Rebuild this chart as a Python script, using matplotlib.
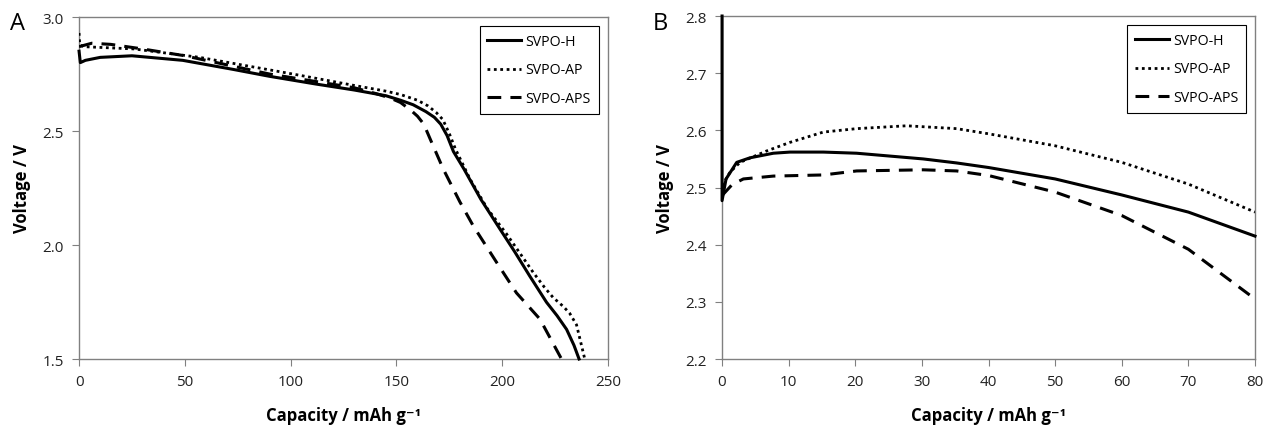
import matplotlib.pyplot as plt

plt.rcParams['font.family'] = ['Open Sans', 'DejaVu Sans']

## Panel A data (capacity / mAh g-1, voltage / V)
a_h_cap = [0, 0.6, 3, 10, 25, 49, 73, 90, 112, 130, 145, 152, 158, 164, 168, 171, 174, 177, 182, 190, 199, 206, 213, 221, 226, 230.5, 234, 236.4]
a_h_v = [2.85, 2.80, 2.81, 2.823, 2.83, 2.81, 2.77, 2.74, 2.706, 2.68, 2.655, 2.635, 2.615, 2.585, 2.56, 2.53, 2.48, 2.41, 2.333, 2.2, 2.07, 1.97, 1.865, 1.749, 1.69, 1.63, 1.56, 1.5]

a_ap_cap = [0, 0.3, 2, 26, 57, 104, 130, 145, 152, 160, 165, 169, 172, 175, 178, 184.8, 193, 202, 208, 214.7, 220, 224.1, 229, 232, 235.2, 239.1]
a_ap_v = [2.93, 2.88, 2.87, 2.86, 2.823, 2.745, 2.70, 2.675, 2.66, 2.635, 2.61, 2.58, 2.55, 2.49, 2.42, 2.29, 2.16, 2.05, 1.97, 1.88, 1.815, 1.77, 1.73, 1.70, 1.65, 1.5]

a_aps_cap = [0, 2, 6, 15, 30, 50, 70, 90, 110, 130, 140, 147, 152, 157, 160, 163, 166, 172.2, 180, 186.3, 197.4, 206.8, 217.9, 228.1]
a_aps_v = [2.87, 2.875, 2.885, 2.88, 2.86, 2.83, 2.79, 2.75, 2.72, 2.69, 2.665, 2.645, 2.625, 2.59, 2.565, 2.53, 2.465, 2.333, 2.19, 2.085, 1.924, 1.79, 1.675, 1.5]

## Panel B data
b_h_cap = [0, 0, 0.6, 2.2, 4.2, 7.7, 10.2, 15.2, 20.2, 30.2, 35.2, 40, 50, 60, 70, 80]
b_h_v = [2.80, 2.477, 2.515, 2.544, 2.552, 2.56, 2.562, 2.562, 2.56, 2.55, 2.543, 2.535, 2.515, 2.487, 2.457, 2.415]

b_ap_cap = [0, 1.2, 2.7, 6.7, 10.2, 15.2, 20.2, 27.7, 35.2, 40, 50, 60, 70, 80]
b_ap_v = [2.503, 2.527, 2.544, 2.564, 2.579, 2.597, 2.603, 2.608, 2.603, 2.594, 2.573, 2.544, 2.506, 2.457]

b_aps_cap = [0, 1.5, 3.2, 7.7, 15.2, 20.2, 30.2, 35.2, 40, 50, 60, 70, 80]
b_aps_v = [2.486, 2.505, 2.515, 2.52, 2.522, 2.529, 2.531, 2.529, 2.521, 2.492, 2.451, 2.392, 2.305]

labels = ['SVPO-H', 'SVPO-AP', 'SVPO-APS']

fig = plt.figure(figsize=(12.65, 4.31), dpi=100)
axA = fig.add_axes([0.0625, 0.1647, 0.418, 0.7935])
axB = fig.add_axes([0.5708, 0.1647, 0.4213, 0.7958])

def draw(ax, h, ap, aps):
    ax.plot(h[0], h[1], color='black', lw=2.2, label=labels[0], clip_on=False, zorder=5)
    ax.plot(ap[0], ap[1], color='black', lw=2.0, ls=(0, (1, 1.3)), label=labels[1], zorder=4)
    ax.plot(aps[0], aps[1], color='black', lw=2.2, ls=(0, (4.5, 3)), label=labels[2], zorder=4)
    for s in ax.spines.values():
        s.set_color('#808080')
        s.set_linewidth(1.0)
    ax.tick_params(direction='out', length=5, color='#808080', labelsize=11, pad=6, labelcolor='#222222')
    ax.set_ylabel('Voltage / V', fontsize=12, fontweight='bold', labelpad=8)
    ax.set_xlabel('Capacity / mAh g\u207b\u00b9', fontsize=12, fontweight='bold', labelpad=12)
    leg = ax.legend(loc='upper right', fontsize=10.2, handlelength=2.4, handletextpad=0.3,
                    fancybox=False, edgecolor='black', framealpha=1, borderpad=0.55,
                    labelspacing=0.95, borderaxespad=0.65)
    leg.get_frame().set_linewidth(0.8)

draw(axA, (a_h_cap, a_h_v), (a_ap_cap, a_ap_v), (a_aps_cap, a_aps_v))
axA.set_xlim(0, 250)
axA.set_ylim(1.5, 3.0)
axA.set_xticks([0, 50, 100, 150, 200, 250])
axA.set_yticks([1.5, 2.0, 2.5, 3.0])
axA.set_yticklabels(['1.5', '2.0', '2.5', '3.0'])

draw(axB, (b_h_cap, b_h_v), (b_ap_cap, b_ap_v), (b_aps_cap, b_aps_v))
axB.set_xlim(0, 80)
axB.set_ylim(2.2, 2.8)
axB.set_xticks(range(0, 81, 10))
axB.set_yticks([2.2, 2.3, 2.4, 2.5, 2.6, 2.7, 2.8])
axB.set_yticklabels(['2.2', '2.3', '2.4', '2.5', '2.6', '2.7', '2.8'])

fig.text(0.008, 0.93, 'A', fontsize=17)
fig.text(0.516, 0.93, 'B', fontsize=17)

fig.savefig('out.png', dpi=100)
